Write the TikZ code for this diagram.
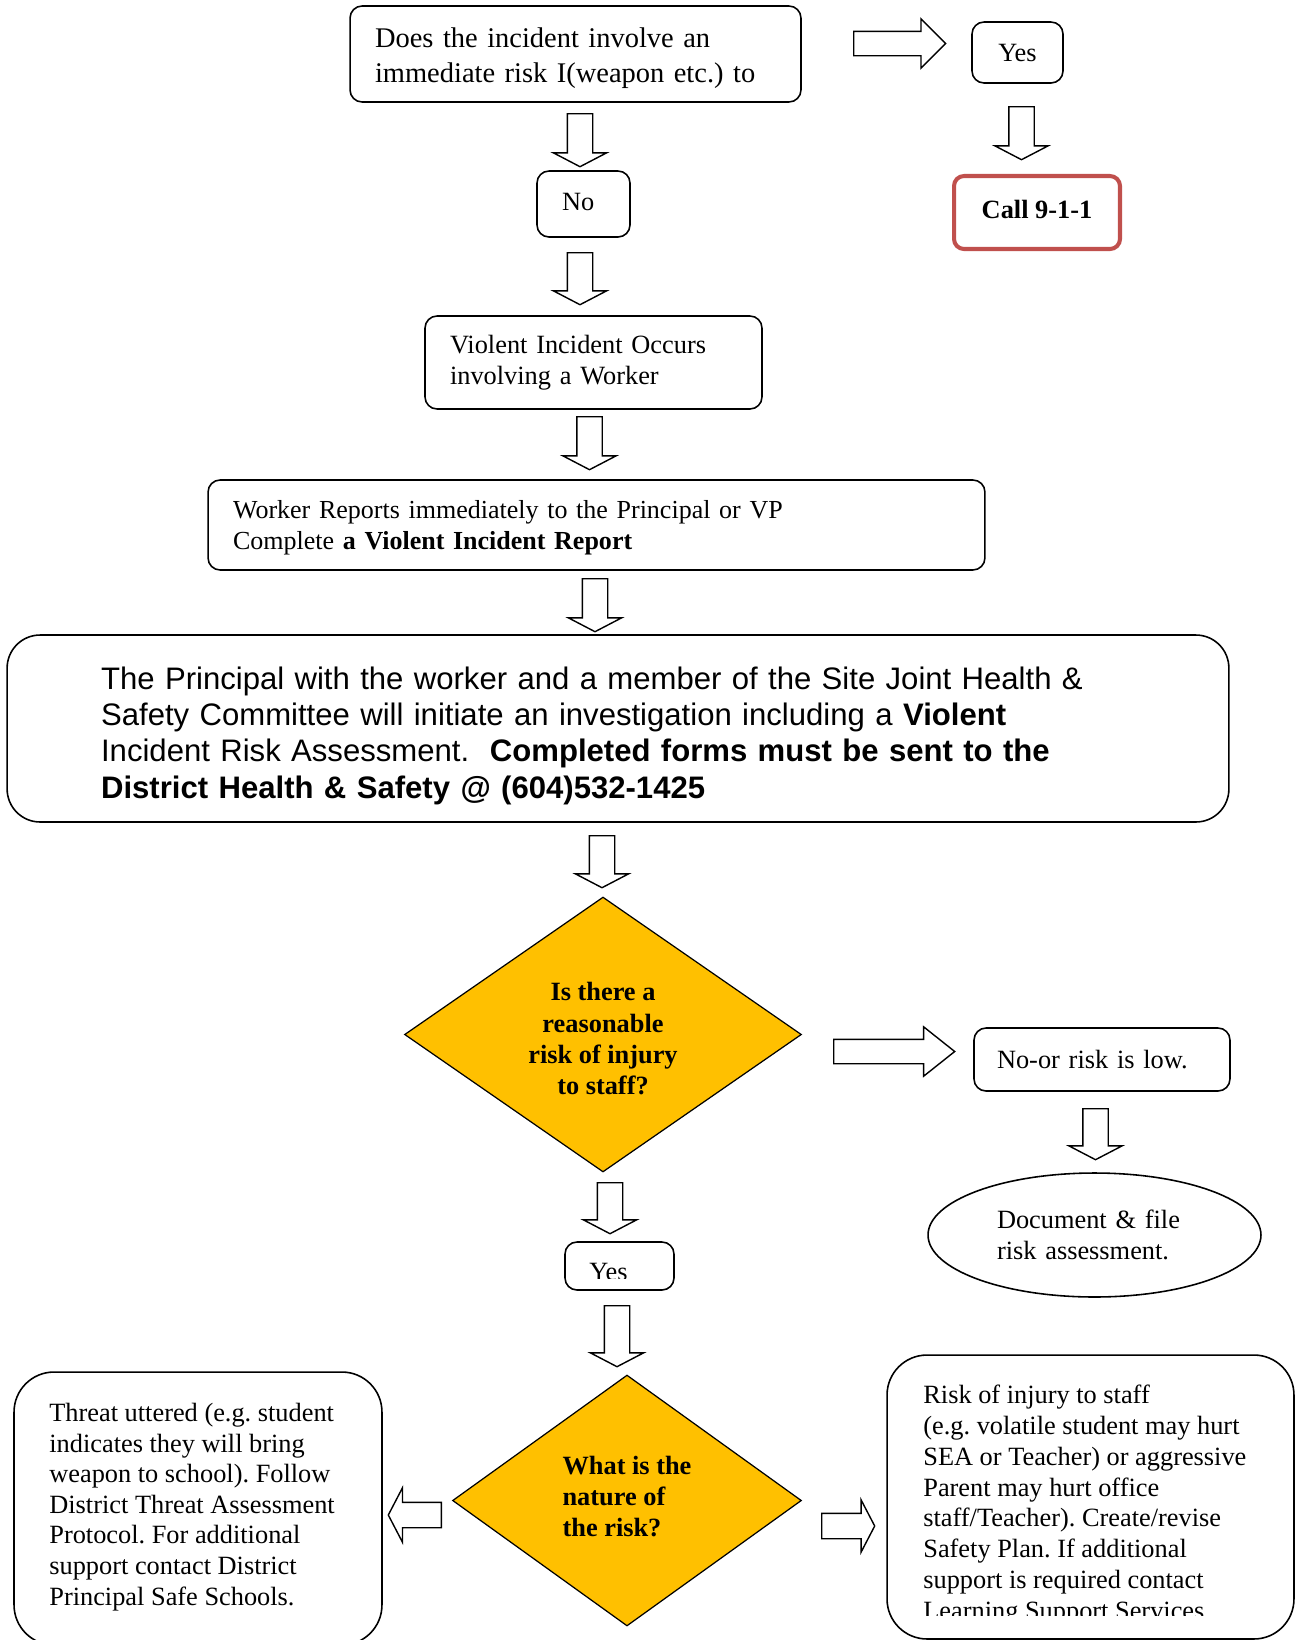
\documentclass[tikz,border=0pt]{standalone}
\usepackage{fontspec}
\setmainfont{Liberation Serif}
\newfontfamily\arialf{Liberation Sans}
\usetikzlibrary{shapes.geometric,shapes.arrows}
\definecolor{decgold}{HTML}{FFC000}
\definecolor{callred}{HTML}{C0504D}
\newcommand{\tnr}{\fontsize{15}{17.4}\selectfont}
\newcommand{\lift}[1]{\rule{0pt}{#1}}
\newcommand{\sink}[1]{\rule[-#1]{0pt}{#1}}
\tikzset{
  qbox/.style={draw, line width=0.9pt, rounded corners=0.24cm, font=\tnr, align=left, inner ysep=0pt},
  decision/.style={diamond, draw, line width=0.7pt, fill=decgold, inner sep=0pt, font=\tnr\bfseries},
  blk/.style={single arrow, draw, line width=0.8pt, fill=white, anchor=tail, inner sep=0.24cm,
    single arrow head extend=0.28cm, single arrow tip angle=125, minimum height=#1},
  down/.style={shape border rotate=270}
}
\begin{document}
\frenchspacing
\begin{tikzpicture}[x=0.02cm, y=-0.02cm]
  \useasboundingbox (0,0) rectangle (1296,1640);
  \clip (0,0) rectangle (1296,1640);
  % top part
  \node[qbox, text width=8.02cm, inner xsep=0.5cm, minimum height=1.92cm, font=\fontsize{16.2}{19.6}\selectfont] (q1) at (575.5,54)
    {\lift{16pt}Does the incident involve an\\immediate risk I(weapon etc.) to};
  \node[qbox, minimum width=1.82cm, minimum height=1.22cm, align=center] (yes1) at (1017.5,52.5) {Yes};
  \node[qbox, draw=callred, line width=2.3pt, rounded corners=0.2cm, minimum width=3.32cm, minimum height=1.46cm,
    font=\tnr\bfseries, align=center] (call) at (1037,212.5) {\raisebox{3.4pt}{Call 9-1-1}};
  \node[qbox, text width=0.86cm, inner xsep=0.5cm, minimum height=1.32cm] (no1) at (583.5,204) {\raisebox{2pt}{No}};
  \node[qbox, text width=5.74cm, inner xsep=0.5cm, minimum height=1.86cm] (occurs) at (593.5,362.5)
    {Violent Incident Occurs\\involving a Worker};
  \node[qbox, text width=14.54cm, inner xsep=0.5cm, minimum height=1.8cm, font=\fontsize{14.8}{17.4}\selectfont] (report) at (596.5,525)
    {\lift{13.7pt}Worker Reports immediately to the Principal or VP\\Complete \textbf{a Violent Incident Report}};
  \node[qbox, rounded corners=0.66cm, text width=20.68cm, inner xsep=1.88cm, minimum height=3.74cm,
    font=\arialf\fontsize{17.7}{20.6}\selectfont] (invest) at (618,728.5)
    {\lift{21pt}The Principal with the worker and a member of the Site Joint Health \&\\
     Safety Committee will initiate an investigation including a \textbf{Violent}\\
     Incident Risk Assessment.\ \ \textbf{Completed forms must be sent to the}\\
     \textbf{District Health \& Safety @ (604)532-1425}};
  % first decision
  \node[decision, aspect=1.45, minimum width=7.94cm, minimum height=5.5cm, align=center,
    font=\fontsize{15}{17.8}\selectfont\bfseries] (risk1) at (603,1034.5)
    {\lift{15.2pt}Is there a\\reasonable\\risk of injury\\to staff?};
  \node[qbox, text width=4.2cm, inner xsep=0.46cm, minimum height=1.26cm] (low) at (1102,1059.5) {No-or risk is low.};
  \node[ellipse, draw, line width=0.9pt, minimum width=6.66cm, minimum height=2.48cm, text width=3.9cm,
    align=left, font=\tnr, inner sep=0pt] (doc) at (1094.5,1235) {Document \& file\\risk assessment.};
  \node[qbox, minimum width=2.18cm, minimum height=0.96cm] (yes2) at (619.5,1266) {};
  \begin{scope}
    \clip (566,1243) rectangle (673,1278);
    \node[font=\tnr, anchor=base, inner sep=0pt] (yes2t) at (608.5,1280.5) {Yes};
  \end{scope}
  % second decision
  \node[decision, aspect=1.39, minimum width=6.98cm, minimum height=5.02cm, align=left] (risk2) at (627,1500.5)
    {What is the\\nature of\\the risk?\sink{4.8pt}};
  \node[qbox, rounded corners=0.8cm, minimum width=7.36cm, minimum height=5.46cm] (threat) at (198,1508.5) {};
  \node[font=\tnr, align=left, anchor=north west, inner sep=0pt] (threatt) at (49,1403)
    {Threat uttered (e.g. student\\indicates they will bring\\weapon to school). Follow\\District Threat Assessment\\
     Protocol. For additional\\support contact District\\Principal Safe Schools.};
  \node[qbox, rounded corners=0.8cm, minimum width=8.14cm, minimum height=5.68cm] (staff) at (1090.5,1497) {};
  \begin{scope}
    \clip (888,1356) rectangle (1293,1615);
    \node[font=\fontsize{15}{17.5}\selectfont, align=left, anchor=north west, inner sep=0pt] (stafft) at (923,1385)
      {Risk of injury to staff\\(e.g. volatile student may hurt\\SEA or Teacher) or aggressive\\Parent may hurt office\\
       staff/Teacher). Create/revise\\Safety Plan. If additional\\support is required contact\\Learning Support Services};
  \end{scope}
  % block arrows
  \foreach \n/\x/\y/\l in {1/580/113/1.06cm, 3/1021.5/106/1.06cm, 4/580/252/1.04cm, 5/589.5/416/1.06cm,
      6/595/578/1.06cm, 7/602/835/1.04cm, 9/1095.5/1108/1.02cm, 10/610/1182/1.02cm, 11/617/1305/1.22cm}
    \node[blk=\l, down] (a\n) at (\x,\y) {};
  \node[blk=1.84cm, inner sep=0.23cm, single arrow head extend=0.25cm, single arrow tip angle=90] (a2) at (853,43.5) {};
  \node[blk=2.42cm, inner sep=0.23cm, single arrow head extend=0.25cm, single arrow tip angle=77] (a8) at (833,1051.5) {};
  \node[blk=1.06cm, shape border rotate=180, single arrow head extend=0.29cm] (a12) at (442,1515) {};
  \node[blk=1.06cm, single arrow head extend=0.27cm] (a13) at (821,1526) {};
\end{tikzpicture}
\end{document}
